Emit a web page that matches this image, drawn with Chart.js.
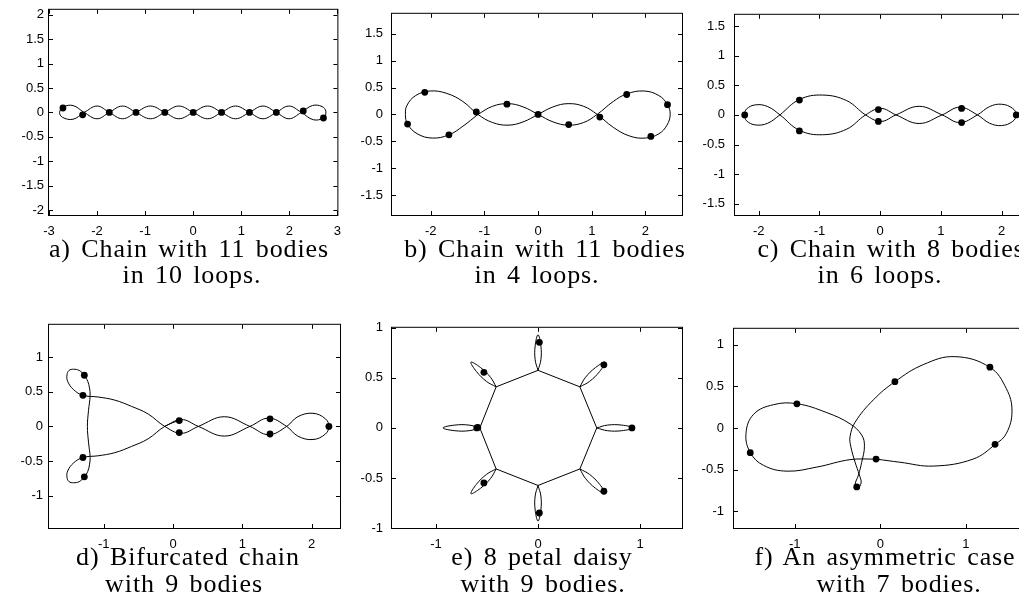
<!DOCTYPE html>
<html><head><meta charset="utf-8">
<script src="https://cdn.jsdelivr.net/npm/chart.js@4.4.1/dist/chart.umd.min.js"></script>
<style>
html,body{margin:0;padding:0;background:#fff;width:1019px;height:609px;overflow:hidden;position:relative}
canvas{position:absolute}
.cap{position:absolute;white-space:nowrap;font-family:'Liberation Serif',serif;font-size:26px;line-height:25px;color:#000;transform:translateX(-50%);letter-spacing:0.9px;word-spacing:3px}
</style></head><body>
<canvas id="ca"></canvas><canvas id="cb"></canvas><canvas id="cc"></canvas>
<canvas id="cd"></canvas><canvas id="ce"></canvas><canvas id="cf"></canvas>
<div class="cap" style="left:189px;top:236px">a) Chain with 11 bodies</div>
<div class="cap" style="left:192px;top:262px">in 10 loops.</div>
<div class="cap" style="left:545px;top:236px">b) Chain with 11 bodies</div>
<div class="cap" style="left:537px;top:262px">in 4 loops.</div>
<div class="cap" style="left:891px;top:236px">c) Chain with 8 bodies</div>
<div class="cap" style="left:880px;top:262px">in 6 loops.</div>
<div class="cap" style="left:188px;top:544px">d) Bifurcated chain</div>
<div class="cap" style="left:184px;top:571px">with 9 bodies</div>
<div class="cap" style="left:542px;top:544px">e) 8 petal daisy</div>
<div class="cap" style="left:543px;top:571px">with 9 bodies.</div>
<div class="cap" style="left:885px;top:544px">f) An asymmetric case</div>
<div class="cap" style="left:899px;top:571px">with 7 bodies.</div>
<script>
// ---------- data ----------
const curveA = [[-2.27,0],[-2.0,0.13],[-1.745,0],[-1.47,-0.13],[-1.19,0],[-0.89,0.13],[-0.59,0],[-0.3,-0.13],[0,0],[0.3,0.13],[0.59,0],[0.88,-0.13],[1.17,0],[1.45,0.13],[1.73,0],[1.99,-0.13],[2.25,0],
 [2.48,0.14],[2.68,0.12],[2.76,0.02],[2.71,-0.11],[2.5,-0.15],[2.25,0],
 [1.99,0.13],[1.73,0],[1.45,-0.13],[1.17,0],[0.88,0.13],[0.59,0],[0.3,-0.13],[0,0],[-0.3,0.13],[-0.59,0],[-0.89,-0.13],[-1.19,0],[-1.47,0.13],[-1.745,0],[-2.0,-0.13],[-2.27,0],
 [-2.5,0.14],[-2.7,0.11],[-2.78,0.0],[-2.72,-0.1],[-2.5,-0.14],[-2.27,0]];
const bodiesA = [[-2.71,0.09],[-2.30,-0.05],[-1.745,0],[-1.19,0],[-0.59,0],[0,0],[0.59,0],[1.17,0],[1.73,0],[2.29,0.03],[2.71,-0.115]];
const xTicksA = [-3,-2,-1,0,1,2,3];
const yTicksA = [-2,-1.5,-1,-0.5,0,0.5,1,1.5,2];

const curveB = [[-1.12,0],[-0.85,0.15],[-0.56,0.2],[-0.28,0.14],[0,0],[0.28,-0.14],[0.56,-0.2],[0.85,-0.15],[1.1,0],
 [1.4,0.24],[1.65,0.38],[1.97,0.435],[2.25,0.35],[2.41,0.18],[2.46,0],[2.4,-0.2],[2.25,-0.36],[2.0,-0.44],[1.7,-0.4],[1.4,-0.24],[1.1,0],
 [0.85,0.15],[0.56,0.2],[0.28,0.14],[0,0],[-0.28,-0.14],[-0.56,-0.2],[-0.85,-0.15],[-1.12,0],
 [-1.4,0.24],[-1.7,0.39],[-2.01,0.435],[-2.28,0.35],[-2.44,0.17],[-2.47,0],[-2.43,-0.18],[-2.25,-0.36],[-1.97,-0.44],[-1.66,-0.38],[-1.4,-0.22],[-1.12,0]];
const bodiesB = [[-2.11,0.41],[-2.43,-0.18],[-1.66,-0.38],[-1.15,0.045],[-0.58,0.19],[0,0],[0.57,-0.19],[1.15,-0.05],[1.65,0.37],[2.41,0.18],[2.10,-0.41]];
const xTicksB = [-2,-1,0,1,2];
const yTicksB = [-1.5,-1,-0.5,0,0.5,1,1.5];

const curveC = [[-1.65,0],[-1.33,0.26],[-0.95,0.335],[-0.55,0.24],[-0.24,0],[0.01,-0.11],[0.26,0],[0.64,0.145],[1.02,0],[1.31,-0.13],[1.6,0],
 [1.8,0.14],[2.0,0.18],[2.18,0.11],[2.24,0],[2.18,-0.11],[2.0,-0.18],[1.8,-0.14],[1.6,0],
 [1.31,0.13],[1.02,0],[0.64,-0.145],[0.26,0],[0.01,0.11],[-0.24,0],[-0.55,-0.24],[-0.95,-0.335],[-1.33,-0.26],[-1.65,0],
 [-1.85,0.14],[-2.05,0.17],[-2.2,0.1],[-2.23,0],[-2.2,-0.1],[-2.05,-0.17],[-1.85,-0.14],[-1.65,0]];
const bodiesC = [[-2.23,0],[-1.33,0.25],[-1.33,-0.27],[-0.03,0.09],[-0.03,-0.11],[1.34,0.11],[1.34,-0.13],[2.24,0]];
const xTicksC = [-2,-1,0,1,2];
const yTicksC = [-1.5,-1,-0.5,0,0.5,1,1.5];

const curveD = [[-0.12,0],[0.12,0.1],[0.365,0],[0.74,-0.14],[1.11,0],[1.38,0.12],[1.64,0],
 [1.8,-0.14],[2.02,-0.19],[2.2,-0.11],[2.25,0],[2.2,0.11],[2.02,0.19],[1.8,0.14],[1.64,0],
 [1.38,-0.12],[1.11,0],[0.74,0.14],[0.365,0],[0.12,-0.1],[-0.12,0],
 [-0.36,0.18],[-0.6,0.29],[-0.84,0.38],[-1.08,0.425],[-1.3,0.45],
 [-1.437,0.533],[-1.52,0.65],[-1.53,0.746],[-1.5,0.81],[-1.437,0.827],[-1.355,0.81],[-1.28,0.74],[-1.23,0.65],[-1.206,0.557],[-1.196,0.448],[-1.22,0.227],[-1.236,0],
 [-1.22,-0.227],[-1.196,-0.448],[-1.206,-0.557],[-1.23,-0.65],[-1.28,-0.73],[-1.355,-0.8],[-1.437,-0.815],[-1.5,-0.8],[-1.53,-0.74],[-1.52,-0.645],[-1.437,-0.53],[-1.3,-0.45],
 [-1.08,-0.425],[-0.84,-0.38],[-0.6,-0.29],[-0.36,-0.18],[-0.12,0],[0.12,0.1]];
const bodiesD = [[-1.28,0.74],[-1.30,0.45],[-1.30,-0.45],[-1.28,-0.73],[0.09,0.085],[0.09,-0.09],[1.40,0.11],[1.40,-0.11],[2.25,0]];
const xTicksD = [-1,0,1,2];
const yTicksD = [-1,-0.5,0,0.5,1];

// daisy: octagon ring and the eight petals attached at its corners
const ringE = [[0.575,0],[0.41,0.41],[0,0.575],[-0.41,0.41],[-0.57,0],[-0.41,-0.41],[0,-0.575],[0.41,-0.41],[0.575,0]];
const petalR  = [[0.575,0],[0.68,-0.028],[0.82,-0.028],[0.93,0],[0.82,0.028],[0.68,0.028],[0.575,0]];
const petalUR = [[0.41,0.41],[0.504,0.464],[0.603,0.563],[0.657,0.657],[0.563,0.603],[0.464,0.504],[0.41,0.41]];
const petalT  = [[0,0.575],[0.028,0.68],[0.028,0.82],[0,0.93],[-0.028,0.82],[-0.028,0.68],[0,0.575]];
const petalUL = [[-0.41,0.41],[-0.464,0.504],[-0.563,0.603],[-0.657,0.657],[-0.603,0.563],[-0.504,0.464],[-0.41,0.41]];
const petalL  = [[-0.57,0],[-0.675,0.028],[-0.815,0.028],[-0.93,0],[-0.815,-0.028],[-0.675,-0.028],[-0.57,0]];
const petalLL = [[-0.41,-0.41],[-0.504,-0.464],[-0.603,-0.563],[-0.657,-0.657],[-0.563,-0.603],[-0.464,-0.504],[-0.41,-0.41]];
const petalB  = [[0,-0.575],[-0.028,-0.68],[-0.028,-0.82],[0,-0.93],[0.028,-0.82],[0.028,-0.68],[0,-0.575]];
const petalLR = [[0.41,-0.41],[0.464,-0.504],[0.563,-0.603],[0.657,-0.657],[0.603,-0.563],[0.504,-0.464],[0.41,-0.41]];
const bodiesE = [[0.013,0.855],[0.645,0.63],[0.92,0],[0.645,-0.633],[0.013,-0.85],[-0.53,-0.55],[-0.6,0],[-0.59,0.005],[-0.53,0.555]];
const xTicksE = [-1,0,1];
const yTicksE = [-1,-0.5,0,0.5,1];

const curveF = [[-0.05,-0.373],[-0.354,-0.38],[-0.742,-0.469],[-1.092,-0.518],[-1.364,-0.449],[-1.519,-0.296],[-1.57,-0.066],[-1.48,0.165],[-1.247,0.28],[-0.975,0.291],[-0.625,0.184],[-0.354,0.05],[-0.218,-0.085],[-0.186,-0.219],[-0.218,-0.411],[-0.256,-0.565],[-0.295,-0.68],[-0.268,-0.726],[-0.225,-0.66],[-0.245,-0.565],[-0.295,-0.411],[-0.346,-0.219],[-0.354,-0.104],[-0.295,0.069],[-0.082,0.337],[0.171,0.556],[0.501,0.76],[0.87,0.856],[1.278,0.729],[1.472,0.472],[1.538,0.203],[1.472,-0.066],[1.344,-0.196],[1.084,-0.373],[0.618,-0.457],[0.229,-0.411],[-0.05,-0.373]];
const bodiesF = [[1.28,0.73],[0.17,0.556],[-0.975,0.29],[-1.52,-0.296],[-0.05,-0.373],[-0.276,-0.707],[1.34,-0.196]];
const xTicksF = [-1,0,1];
const yTicksF = [-1,-0.5,0,0.5,1];

// ---------- layout ----------
const line = (pts, tension) => ({pts, tension});
const panels = [
 {id:'ca', box:[49,7,291,208], xr:[-3,3], yr:[-2.1,2.1], lines:[line(curveA,0.4)], bodies:bodiesA, xt:xTicksA, yt:yTicksA, ypad:5},
 {id:'cb', box:[392,7,290,208], xr:[-2.72,2.68], yr:[-1.87,1.87], lines:[line(curveB,0.4)], bodies:bodiesB, xt:xTicksB, yt:yTicksB, ypad:9},
 {id:'cc', box:[735,7,291,208], xr:[-2.39,2.4], yr:[-1.69,1.69], lines:[line(curveC,0.4)], bodies:bodiesC, xt:xTicksC, yt:yTicksC, ypad:10},
 {id:'cd', box:[49,321,291,207], xr:[-1.79,2.41], yr:[-1.47,1.47], lines:[line(curveD,0.4)], bodies:bodiesD, xt:xTicksD, yt:yTicksD, ypad:6},
 {id:'ce', box:[392,321,290,207], xr:[-1.43,1.41], yr:[-1,1],
   lines:[line(ringE,0), line(petalR,0.4), line(petalUR,0.4), line(petalT,0.4), line(petalUL,0.4), line(petalL,0.4), line(petalLL,0.4), line(petalB,0.4), line(petalLR,0.4)],
   bodies:bodiesE, xt:xTicksE, yt:yTicksE, ypad:9},
 {id:'cf', box:[734,321,291,207], xr:[-1.71,1.69], yr:[-1.2,1.19], lines:[line(curveF,0.4)], bodies:bodiesF, xt:xTicksF, yt:yTicksF, ypad:10}
];
const YW = 50, XH = 30, PT = 10, PR = 10;

const framePlugin = {
  id:'frame',
  afterDraw(chart){
    const ctx = chart.ctx, a = chart.chartArea;
    ctx.save();
    ctx.strokeStyle = '#000'; ctx.lineWidth = 1;
    ctx.strokeRect(a.left - 0.5, a.top - 0.5, a.right - a.left + 1, a.bottom - a.top + 1);
    ctx.beginPath();
    const xs = chart.scales.x, ys = chart.scales.y;
    xs.ticks.forEach(t => {
      const p = Math.round(xs.getPixelForValue(t.value)) + 0.5;
      ctx.moveTo(p, a.bottom); ctx.lineTo(p, a.bottom - 4);
      ctx.moveTo(p, a.top); ctx.lineTo(p, a.top + 4);
    });
    ys.ticks.forEach(t => {
      const p = Math.round(ys.getPixelForValue(t.value)) + 0.5;
      ctx.moveTo(a.left, p); ctx.lineTo(a.left + 4, p);
      ctx.moveTo(a.right, p); ctx.lineTo(a.right - 4, p);
    });
    ctx.stroke();
    ctx.restore();
  }
};

const tickFont = {family:'Liberation Sans', size:13};
panels.forEach(p => {
  const cv = document.getElementById(p.id);
  const [bl, bt, bw, bh] = p.box;
  cv.width = bw + YW + PR; cv.height = bh + PT + XH;
  cv.style.left = (bl - YW) + 'px'; cv.style.top = (bt - PT) + 'px';
  const datasets = p.lines.map(l => ({data:l.pts.map(([x,y]) => ({x, y})), showLine:true, borderColor:'#000', borderWidth:1, pointRadius:0, tension:l.tension, fill:false}));
  datasets.push({data:p.bodies.map(([x,y]) => ({x, y})), showLine:false, pointRadius:3.4, pointBackgroundColor:'#000', pointBorderWidth:0, pointBorderColor:'#000'});
  new Chart(cv, {
    type:'scatter',
    data:{datasets},
    options:{
      responsive:false, animation:false, devicePixelRatio:1, events:[],
      layout:{padding:{top:PT, right:PR, left:0, bottom:0}},
      plugins:{legend:{display:false}, tooltip:{enabled:false}},
      scales:{
        x:{type:'linear', min:p.xr[0], max:p.xr[1],
           grid:{display:false, drawTicks:false}, border:{display:false},
           afterBuildTicks: s => { s.ticks = p.xt.map(v => ({value:v})); },
           afterFit: s => { s.height = XH; },
           ticks:{padding:9, color:'#000', font:tickFont, autoSkip:false, maxRotation:0, callback: v => String(v)}},
        y:{type:'linear', min:p.yr[0], max:p.yr[1],
           grid:{display:false, drawTicks:false}, border:{display:false},
           afterBuildTicks: s => { s.ticks = p.yt.map(v => ({value:v})); },
           afterFit: s => { s.width = YW; },
           ticks:{padding:p.ypad, color:'#000', font:tickFont, autoSkip:false, callback: v => String(v)}}
      }
    },
    plugins:[framePlugin]
  });
});
</script>
</body></html>
